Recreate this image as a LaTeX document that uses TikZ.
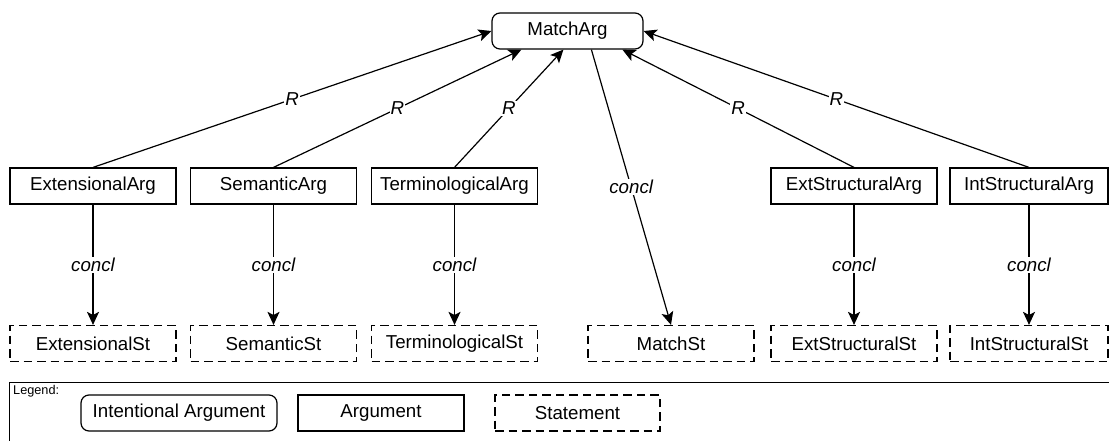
\documentclass[tikz,border=0pt]{standalone}
\usepackage{fontspec}
\setmainfont{Liberation Sans}
\usetikzlibrary{arrows.meta,calc}
\begin{document}
\begin{tikzpicture}[x=1pt,y=-1pt,
  base/.style={draw, line width=1.2pt, minimum height=36pt, inner sep=0pt,
               font=\fontsize{18.7}{22}\selectfont},
  intarg/.style={base, rounded corners=8pt},
  argbox/.style={base, minimum width=166pt},
  stmt/.style={base, minimum width=166pt, dash pattern=on 8.5pt off 5pt},
  link/.style={line width=1.2pt, -{Stealth[length=13pt,width=12pt,inset=3pt]}},
  lbl/.style={fill=white, inner sep=1pt, font=\fontsize{18.7}{22}\selectfont\itshape}]
\useasboundingbox (0,0) rectangle (1109,440);
\begin{scope}
\clip (0,0) rectangle (1109,440);

% top: the intentional argument
\node[intarg, minimum width=151pt] (match) at (567.5,31) {MatchArg};

% middle row: arguments
\node[argbox] (extArg)  at (93,186)    {ExtensionalArg};
\node[argbox] (semArg)  at (273.5,186) {SemanticArg};
\node[argbox] (terArg)  at (454.5,186) {TerminologicalArg};
\node[argbox] (esArg)   at (854,186)   {ExtStructuralArg};
\node[argbox, minimum width=158pt] (isArg) at (1029,186) {IntStructuralArg};

% bottom row: statements
\node[stmt] (extSt)   at (93,343.5)    {ExtensionalSt};
\node[stmt] (semSt)   at (273.5,343.5) {SemanticSt};
\node[stmt] (terSt)   at (454.5,343.5) {TerminologicalSt};
\node[stmt] (matchSt) at (671,343.5)   {MatchSt};
\node[stmt] (esSt)    at (854,343.5)   {ExtStructuralSt};
\node[stmt, minimum width=158pt] (isSt) at (1029,343.5) {IntStructuralSt};

% attachment points on the lower edge of MatchArg
\coordinate (mSem) at ([xshift=30pt]match.south west);
\coordinate (mTer) at ([xshift=72pt]match.south west);
\coordinate (mCon) at ([xshift=100pt]match.south west);
\coordinate (mEs)  at ([xshift=131pt]match.south west);

% R relations
\draw[link] (extArg.north) -- node[lbl] {R} (match.west);
\draw[link] (semArg.north) -- node[lbl] {R} (mSem);
\draw[link] (terArg.north) -- node[lbl] {R} (mTer);
\draw[link] (esArg.north)  -- node[lbl] {R} (mEs);
\draw[link] (isArg.north)  -- node[lbl] {R} (match.east);

% conclusions
\draw[link] (mCon) -- node[lbl] {concl} (matchSt.north);
\draw[link] (extArg) -- node[lbl] {concl} (extSt);
\draw[link] (semArg) -- node[lbl] {concl} (semSt);
\draw[link] (terArg) -- node[lbl] {concl} (terSt);
\draw[link] (esArg)  -- node[lbl] {concl} (esSt);
\draw[link] (isArg)  -- node[lbl] {concl} (isSt);

% legend
\node[draw, line width=1.2pt, minimum width=1130pt, minimum height=90pt,
      anchor=north west, inner sep=0pt] (legend) at (9,382) {};
\node[anchor=base west, inner sep=0pt, font=\fontsize{12.7}{14}\selectfont]
      (legendTitle) at (13,394) {Legend:};
\node[intarg, minimum width=196pt] (legInt)  at (179,413)   {Intentional Argument};
\node[argbox] (legArg)  at (381,413)   {Argument};
\node[stmt, minimum width=165pt] (legSt) at (577.5,413) {Statement};
\end{scope}
\end{tikzpicture}
\end{document}
